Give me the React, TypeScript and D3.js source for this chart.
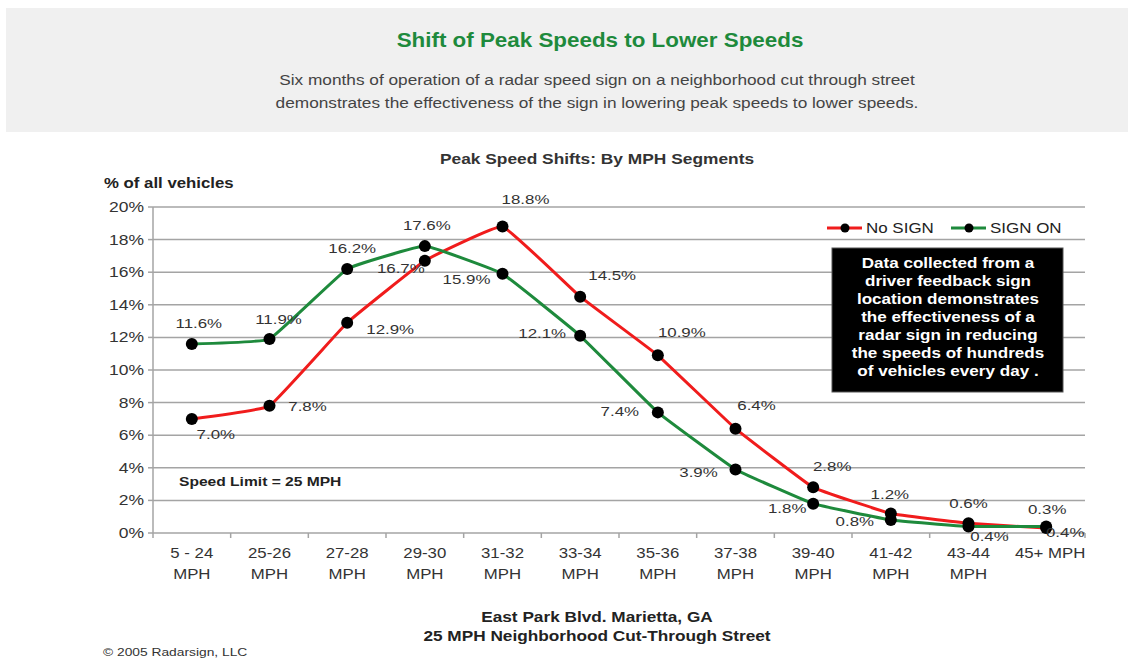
import React from 'react';
import * as d3 from 'd3';

// chart data
const categories = ['5 - 24|MPH', '25-26|MPH', '27-28|MPH', '29-30|MPH', '31-32|MPH', '33-34|MPH',
  '35-36|MPH', '37-38|MPH', '39-40|MPH', '41-42|MPH', '43-44|MPH', '45+ MPH'];
const noSign = [7.0, 7.8, 12.9, 16.7, 18.8, 14.5, 10.9, 6.4, 2.8, 1.2, 0.6, 0.3];
const signOn = [11.6, 11.9, 16.2, 17.6, 15.9, 12.1, 7.4, 3.9, 1.8, 0.8, 0.4, 0.4];
const yTicks = [0, 2, 4, 6, 8, 10, 12, 14, 16, 18, 20];
const noteLines = [
  'Data collected from a',
  'driver feedback sign',
  'location demonstrates',
  'the effectiveness of a',
  'radar sign in reducing',
  'the speeds of hundreds',
  'of vehicles every day .',
];

// where each value label sits relative to its marker
const noSignLabelOffset = [[24, 15], [38, 0], [43, 7], [-24, 7], [23, -27], [32, -21],
  [24, -23], [21, -23], [19, -21], [-1, -19], [0, -20], [1, -19]];
const signOnLabelOffset = [[7, -21], [9, -20], [5, -21], [2, -21], [-36, 5], [-38, -3],
  [-38, -1], [-37, 3], [-26, 5], [-36, 1], [21, 10], [19, 6]];

const W = 1142;
const H = 660;
const FONT = 'Liberation Sans, Arial, sans-serif';
const RED = '#f01c1c';
const GREEN = '#1e8a3c';
const GRID = '#a4a4a4';

// the source picture has its text stretched sideways, so every label is scaled in x
function T({ x, y, k = 1.22, children, ...rest }: any) {
  return (
    <text transform={`translate(${x},${y}) scale(${k},1)`} {...rest}>{children}</text>
  );
}

export default function App() {
  const margin = { left: 153, right: 1085, top: 207, bottom: 533 };

  const x = d3.scaleBand()
    .domain(categories)
    .range([margin.left, margin.right]);

  const y = d3.scaleLinear()
    .domain([0, 20])
    .range([margin.bottom, margin.top]);

  const cx = (i: number) => (x(categories[i]) as number) + x.bandwidth() / 2;

  const line = d3.line<number>()
    .x((d, i) => cx(i))
    .y(d => y(d))
    .curve(d3.curveCardinal.tension(0.75));

  const series = [
    { name: 'No SIGN', values: noSign, color: RED, offsets: noSignLabelOffset },
    { name: 'SIGN ON', values: signOn, color: GREEN, offsets: signOnLabelOffset },
  ];

  return (
    <svg width={W} height={H} style={{ position: 'absolute', left: 0, top: 0, background: '#fff' }}
      fontFamily={FONT}>
      {/* header band */}
      <rect x={6} y={8} width={1122} height={124} fill="#f0f0f0" />
      <T x={600} y={47} k={1.12} textAnchor="middle" fontSize={20} fontWeight="bold" fill={GREEN}>
        Shift of Peak Speeds to Lower Speeds
      </T>
      <T x={597} y={85} k={1.15} textAnchor="middle" fontSize={15} fill="#444">
        Six months of operation of a radar speed sign on a neighborhood cut through street
      </T>
      <T x={597} y={108} k={1.15} textAnchor="middle" fontSize={15} fill="#444">
        demonstrates the effectiveness of the sign in lowering peak speeds to lower speeds.
      </T>

      {/* chart titles */}
      <T x={597} y={164} k={1.24} textAnchor="middle" fontSize={14} fontWeight="bold" fill="#333">
        Peak Speed Shifts: By MPH Segments
      </T>
      <T x={104} y={188} k={1.2} fontSize={14} fontWeight="bold" fill="#222">% of all vehicles</T>

      {/* grid + y axis */}
      {yTicks.map(t => (
        <g key={t}>
          <line x1={margin.left} x2={margin.right} y1={y(t)} y2={y(t)} stroke={GRID} strokeWidth={1.5} />
          <line x1={margin.left - 5} x2={margin.left} y1={y(t)} y2={y(t)} stroke={GRID} strokeWidth={1.5} />
          <T x={144} y={y(t)} k={1.25} dy="0.35em" textAnchor="end" fontSize={14} fill="#333">{t}%</T>
        </g>
      ))}
      <line x1={margin.left} x2={margin.left} y1={margin.top} y2={margin.bottom} stroke={GRID} strokeWidth={1.5} />

      {/* x axis ticks + labels */}
      {categories.map(c => (
        <line key={'t' + c} x1={x(c)} x2={x(c)} y1={margin.bottom} y2={margin.bottom + 5}
          stroke={GRID} strokeWidth={1.5} />
      ))}
      <line x1={margin.right} x2={margin.right} y1={margin.bottom} y2={margin.bottom + 5} stroke={GRID} strokeWidth={1.5} />
      {categories.map((c, i) => {
        const parts = c.split('|');
        return (
          <T key={'l' + c} x={cx(i) + (parts.length === 1 ? 4 : 0)} y={558} k={1.2}
            textAnchor="middle" fontSize={14} fill="#333">
            {parts.map((p, j) => (
              <tspan key={j} x={0} dy={j === 0 ? 0 : 21}>{p}</tspan>
            ))}
          </T>
        );
      })}

      {/* series lines */}
      {series.map(s => (
        <path key={s.name} d={line(s.values) || ''} fill="none" stroke={s.color} strokeWidth={3} />
      ))}
      {series.map(s => (
        <g key={'m' + s.name}>
          {s.values.map((v, i) => (
            <circle key={i} cx={cx(i)} cy={y(v)} r={6} fill="#000" />
          ))}
        </g>
      ))}
      {series.map(s => (
        <g key={'v' + s.name}>
          {s.values.map((v, i) => (
            <T key={i} x={cx(i) + s.offsets[i][0]} y={y(v) + s.offsets[i][1]} k={1.25} dy="0.35em"
              textAnchor="middle" fontSize={13.5} fill="#333">{v.toFixed(1)}%</T>
          ))}
        </g>
      ))}

      {/* legend */}
      {series.map((s, k) => {
        const lx = 827 + k * 124;
        return (
          <g key={'lg' + s.name}>
            <line x1={lx} x2={lx + 35} y1={228} y2={228} stroke={s.color} strokeWidth={3} />
            <circle cx={lx + 18} cy={228} r={4.5} fill="#000" />
            <T x={lx + 39} y={228} k={1.13} dy="0.35em" fontSize={15} fill="#222">{s.name}</T>
          </g>
        );
      })}

      {/* note box */}
      <rect x={832} y={248} width={231} height={144} fill="#000" stroke="#555" />
      {noteLines.map((t, i) => (
        <T key={t} x={948} y={263 + i * 18} k={1.22} dy="0.35em" textAnchor="middle" fontSize={14}
          fontWeight="bold" fill="#fff">{t}</T>
      ))}

      <T x={179} y={481} k={1.2} dy="0.35em" fontSize={13} fontWeight="bold" fill="#222">Speed Limit = 25 MPH</T>

      {/* footer */}
      <T x={597} y={622} k={1.23} textAnchor="middle" fontSize={14} fontWeight="bold" fill="#222">East Park Blvd. Marietta, GA</T>
      <T x={597} y={641} k={1.23} textAnchor="middle" fontSize={14} fontWeight="bold" fill="#222">25 MPH Neighborhood Cut-Through Street</T>
      <T x={103} y={656} k={1.2} fontSize={11.5} fill="#333">© 2005 Radarsign, LLC</T>
    </svg>
  );
}
